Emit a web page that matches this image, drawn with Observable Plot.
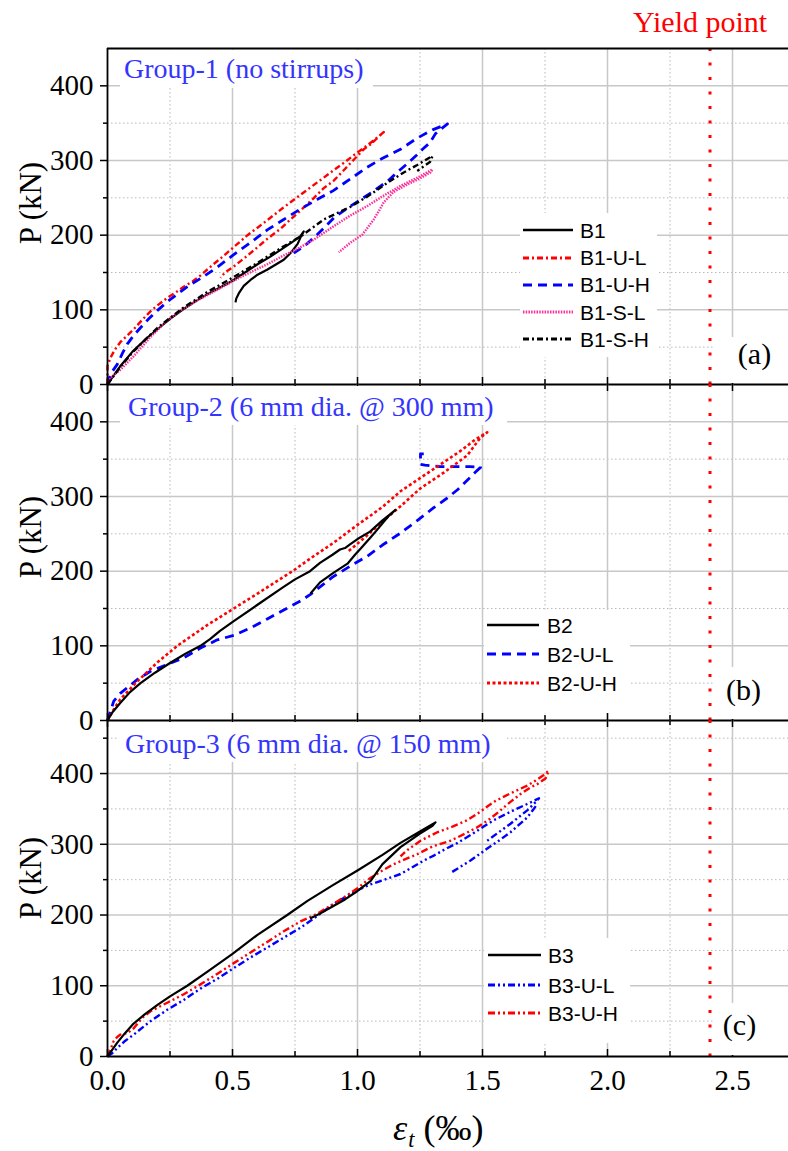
<!DOCTYPE html>
<html>
<head>
<meta charset="utf-8">
<script src="https://cdn.jsdelivr.net/npm/d3@7"></script>
<script src="https://cdn.jsdelivr.net/npm/@observablehq/plot@0.6"></script>
<style>
html,body{margin:0;padding:0;background:#fff;}
#chart{position:relative;width:788px;height:1151px;overflow:hidden;background:#fff;}
.box{position:absolute;background:#fff;}
</style>
</head>
<body>
<div id="chart"></div>
<script>
// ---------- data ----------
const strainTicks = [0, 0.5, 1, 1.5, 2, 2.5];
const strainTickLabels = ["0.0", "0.5", "1.0", "1.5", "2.0", "2.5"];
const strainMinor = [0.25, 0.75, 1.25, 1.75, 2.25];
const loadTicks = [0, 100, 200, 300, 400];
const loadMinorAB = [50, 150, 250, 350];
const loadMinorC = [50, 150, 250, 350, 450];
const yieldStrain = [2.41];
const groupTitles = ["Group-1 (no stirrups)", "Group-2 (6 mm dia. @ 300 mm)", "Group-3 (6 mm dia. @ 150 mm)"];
const panelTags = ["(a)", "(b)", "(c)"];
const names1 = ["B1", "B1-U-L", "B1-U-H", "B1-S-L", "B1-S-H"];
const names2 = ["B2", "B2-U-L", "B2-U-H"];
const names3 = ["B3", "B3-U-L", "B3-U-H"];

// [strain (‰), load (kN)] ; null = gap
const B1 = [[0,0],[0.02,10],[0.05,24],[0.1,44],[0.15,60],[0.2,74],[0.25,88],[0.3,100],[0.35,111],[0.4,121],[0.45,130],[0.5,139],[0.55,150],[0.6,161],[0.65,171],[0.7,182],[0.74,191],[0.77,198],[0.785,205],[0.775,199],[0.76,188],[0.732,176],[0.705,167],[0.67,160],[0.64,154],[0.6,147],[0.572,140],[0.545,132],[0.525,122],[0.515,115],[0.512,110]];
const B1UL = [[0,0],[0,25],[0.012,36],[0.03,47],[0.052,57],[0.08,66],[0.105,74],[0.14,87],[0.172,98],[0.2,106],[0.239,116],[0.28,125],[0.305,131],[0.34,138],[0.372,146],[0.42,160],[0.46,171],[0.505,184],[0.56,200],[0.6,210],[0.639,220],[0.7,236],[0.732,244],[0.772,254],[0.82,266],[0.865,277],[0.905,287],[0.95,298],[0.985,307],[1.03,318],[1.065,327],[1.105,338],[1.079,330],[1.05,321],[1.025,315],[0.985,301],[0.945,287],[0.905,273],[0.865,263],[0.82,248],[0.772,233],[0.732,221],[0.69,208],[0.639,195],[0.59,181],[0.55,170],[0.505,158],[0.47,150],[0.452,143]];
const B1UH = [[0,0],[0.012,14],[0.039,27],[0.06,42],[0.079,54],[0.105,66],[0.132,76],[0.165,88],[0.199,99],[0.24,111],[0.279,121],[0.32,131],[0.372,142],[0.439,157],[0.505,174],[0.572,190],[0.639,207],[0.7,220],[0.772,235],[0.84,248],[0.905,260],[0.97,275],[1.039,291],[1.1,303],[1.172,315],[1.239,330],[1.3,341],[1.36,349],[1.33,341],[1.312,336],[1.29,324],[1.26,315],[1.236,307],[1.2,296],[1.172,288],[1.119,272],[1.06,258],[1.0,245],[0.95,234],[0.905,223],[0.87,211],[0.839,201],[0.8,189],[0.772,182],[0.745,176]];
const B1SL = [[0,0],[0.012,9],[0.052,20],[0.105,38],[0.17,63],[0.239,86],[0.3,101],[0.372,115],[0.44,127],[0.505,139],[0.57,150],[0.639,161],[0.7,172],[0.772,184],[0.825,194],[0.905,212],[0.97,226],[1.039,239],[1.1,252],[1.172,266],[1.239,277],[1.3,288],[1.292,284],[1.25,276],[1.2,268],[1.145,258],[1.105,244],[1.09,235],[1.065,221],[1.02,201],[0.972,190],[0.925,177]];
const B1SH = [[0,0],[0.05,23],[0.1,43],[0.2,76],[0.3,102],[0.4,124],[0.5,143],[0.6,163],[0.7,184],[0.78,200],[0.865,221],[0.972,238],[1.05,254],[1.119,270],[1.185,284],[1.239,294],[1.279,302],[1.3,306],[1.29,298],[1.26,291],[1.239,286]];

const B2 = [[0,0],[0.02,11],[0.05,23],[0.09,38],[0.132,50],[0.19,64],[0.25,77],[0.31,89],[0.372,100],[0.41,109],[0.45,120],[0.505,133],[0.6,155],[0.7,178],[0.75,189],[0.81,200],[0.85,211],[0.9,222],[0.93,229],[0.95,231],[0.97,236],[1.0,243],[1.05,253],[1.1,268],[1.13,276],[1.152,282],[1.125,274],[1.1,264],[1.075,254],[1.052,245],[1.012,230],[0.99,222],[0.96,210],[0.905,198],[0.85,185],[0.812,170]];
const B2UL = [[0,0],[0.025,26],[0.05,36],[0.079,44],[0.12,55],[0.172,66],[0.239,75],[0.305,84],[0.372,97],[0.439,108],[0.505,114],[0.572,124],[0.639,136],[0.705,148],[0.772,160],[0.812,169],[0.9,192],[0.972,207],[1.039,220],[1.1,235],[1.172,251],[1.24,268],[1.305,285],[1.359,298],[1.4,309],[1.44,322],[1.47,332],[1.492,339],[1.45,340],[1.4,340],[1.33,340],[1.27,342],[1.252,343],[1.252,357],[1.265,357]];
const B2UH = [[0,0],[0.02,12],[0.05,28],[0.112,50],[0.2,78],[0.279,100],[0.4,128],[0.505,150],[0.6,170],[0.74,200],[0.82,219],[0.9,237],[1.0,262],[1.1,286],[1.172,307],[1.252,325],[1.332,343],[1.412,361],[1.47,376],[1.519,386],[1.492,379],[1.439,355],[1.345,332],[1.252,311],[1.172,287],[1.105,268],[1.039,248],[0.965,227]];

const B3 = [[0,0],[0.02,10],[0.04,20],[0.07,33],[0.1,45],[0.15,60],[0.2,73],[0.25,85],[0.319,100],[0.4,120],[0.5,145],[0.6,172],[0.719,200],[0.8,220],[0.9,242],[1.0,263],[1.1,285],[1.172,302],[1.25,318],[1.312,331],[1.3,326],[1.25,315],[1.172,296],[1.1,272],[1.052,248],[1.0,234],[0.95,222],[0.9,212],[0.85,202],[0.81,195]];
const B3UL = [[0,0],[0.02,5],[0.039,12],[0.07,22],[0.105,31],[0.172,50],[0.239,66],[0.305,80],[0.372,96],[0.44,110],[0.505,125],[0.572,140],[0.639,154],[0.705,168],[0.772,182],[0.84,199],[0.905,216],[0.97,229],[1.0,235],[1.05,243],[1.1,249],[1.172,258],[1.212,266],[1.26,276],[1.305,284],[1.345,292],[1.4,302],[1.452,313],[1.5,324],[1.545,334],[1.612,346],[1.679,357],[1.726,365],[1.719,362],[1.679,348],[1.612,329],[1.565,317],[1.519,305],null,[1.379,261],[1.415,269],[1.452,277],[1.519,294],[1.565,305],[1.612,317],[1.679,338],[1.705,350],[1.719,357]];
const B3UH = [[0,0],[0.012,10],[0.025,22],[0.04,28],[0.052,31],[0.08,33],[0.105,40],[0.14,55],[0.172,64],[0.239,76],[0.305,88],[0.372,102],[0.44,117],[0.505,132],[0.572,147],[0.639,162],[0.705,177],[0.772,191],[0.84,202],[0.905,216],[0.95,226],[1.0,238],[1.05,252],[1.1,263],[1.145,272],[1.239,286],[1.3,297],[1.372,305],[1.43,315],[1.479,324],[1.53,336],[1.572,348],[1.612,360],[1.652,371],[1.69,380],[1.719,385],[1.752,393],[1.765,404],[1.745,398],[1.712,390],[1.679,383],[1.612,372],[1.545,360],[1.479,343],[1.439,334],[1.38,325],[1.319,317],[1.252,305],[1.2,292],[1.172,283]];

// ---------- styles ----------
const RED = "#ff0000", BLUE = "#0000ff", PINK = "#ff2f9a", BLACK = "#000000";
const st = {
  solid:  {stroke: BLACK, width: 2.2, dash: null},
  redDD:  {stroke: RED,   width: 2.4, dash: "6,3,2,3"},
  blueDa: {stroke: BLUE,  width: 2.8, dash: "9,6"},
  pinkDo: {stroke: PINK,  width: 2.4, dash: "1.5,1.2"},
  blackDD:{stroke: BLACK, width: 2.4, dash: "6,3,2,3"},
  redDot: {stroke: RED,   width: 2.6, dash: "3,2.5"},
  blueDDD:{stroke: BLUE,  width: 2.4, dash: "7,3,2,3,2,3"},
  redDDD: {stroke: RED,   width: 2.4, dash: "7,3,2,3,2,3"}
};

const W = 788, H = 1151, ML = 107, XMAX = 2.724;
const panels = [
  {top: 48, bottom: 384, yMax: 450, minor: loadMinorAB, topLine: true, topTicks: false, xAxis: false,
   series: [[B1, st.solid], [B1UL, st.redDD], [B1UH, st.blueDa], [B1SL, st.pinkDo], [B1SH, st.blackDD]]},
  {top: 384, bottom: 720, yMax: 450, minor: loadMinorAB, topLine: false, topTicks: true, xAxis: false,
   series: [[B2UL, st.blueDa], [B2UH, st.redDot], [B2, st.solid]]},
  {top: 720, bottom: 1056, yMax: 475, minor: loadMinorC, topLine: false, topTicks: true, xAxis: true,
   series: [[B3UL, st.blueDDD], [B3UH, st.redDDD], [B3, st.solid]]}
];

const chart = document.getElementById("chart");
const GRID = "#c8c8c8", GRIDMINOR = "#b9b9b9";

panels.forEach(p => {
  const k = (p.bottom - p.top) / p.yMax;
  const marks = [
    Plot.ruleX(strainMinor, {stroke: GRIDMINOR, strokeWidth: 1, strokeDasharray: "1.5,2.5"}),
    Plot.ruleY(p.minor, {stroke: GRIDMINOR, strokeWidth: 1, strokeDasharray: "1.5,2.5"}),
    Plot.ruleX(strainTicks.filter(v => v > 0), {stroke: GRID, strokeWidth: 1.5}),
    Plot.ruleY(loadTicks.filter(v => v > 0), {stroke: GRID, strokeWidth: 1.5}),
    Plot.ruleX(yieldStrain, {stroke: RED, strokeWidth: 3, strokeDasharray: "3,11.5"})
  ];
  p.series.forEach(([data, s]) => {
    marks.push(Plot.line(data, {
      x: d => d ? d[0] : NaN, y: d => d ? d[1] : NaN,
      stroke: s.stroke, strokeWidth: s.width, strokeDasharray: s.dash,
      strokeLinejoin: "round", strokeLinecap: "butt"
    }));
  });
  // inward x ticks
  marks.push(Plot.ruleX(strainTicks, {y1: 0, y2: 7 / k, stroke: BLACK, strokeWidth: 1.5}));
  marks.push(Plot.ruleX(strainMinor, {y1: 0, y2: 5 / k, stroke: BLACK, strokeWidth: 1.5}));
  if (p.topTicks) {
    marks.push(Plot.ruleX(strainTicks, {y1: p.yMax, y2: p.yMax - 7 / k, stroke: BLACK, strokeWidth: 1.5}));
    marks.push(Plot.ruleX(strainMinor, {y1: p.yMax, y2: p.yMax - 5 / k, stroke: BLACK, strokeWidth: 1.5}));
  }
  // frame
  marks.push(Plot.ruleX([0], {stroke: BLACK, strokeWidth: 1.8}));
  marks.push(Plot.ruleY([0], {stroke: BLACK, strokeWidth: 1.8}));
  if (p.topLine) marks.push(Plot.ruleY([p.yMax], {stroke: BLACK, strokeWidth: 1.8}));
  // y axis
  marks.push(Plot.axisY(loadTicks, {tickSize: 7, tickPadding: 7, fontSize: 29, label: null, strokeWidth: 1.5}));
  marks.push(Plot.axisY(p.minor, {tickSize: 4, tickFormat: () => "", label: null, strokeWidth: 1.5}));
  if (p.xAxis) {
    marks.push(Plot.axisX(strainTicks, {tickSize: 0, tickPadding: 13, fontSize: 29, label: null,
      tickFormat: d => strainTickLabels[strainTicks.indexOf(d)]}));
  }
  const svg = Plot.plot({
    width: W, height: H,
    marginLeft: ML, marginRight: 0, marginTop: p.top, marginBottom: H - p.bottom,
    x: p.xAxis ? {domain: [0, XMAX]} : {domain: [0, XMAX], axis: null},
    y: {domain: [0, p.yMax]},
    style: {fontFamily: '"Liberation Serif","Times New Roman",serif', fontSize: "29px", background: "transparent", overflow: "visible", color: "#000"},
    marks
  });
  svg.style.position = "absolute";
  svg.style.left = "0px";
  svg.style.top = "0px";
  svg.style.background = "transparent";
  chart.appendChild(svg);
});

// ---------- annotations (HTML overlay) ----------
const SERIF = '"Liberation Serif","Times New Roman",serif';
const SANS = '"Liberation Sans",Arial,sans-serif';
function addBox(l, t, r, b) {
  const d = document.createElement("div");
  d.className = "box";
  Object.assign(d.style, {left: l + "px", top: t + "px", width: (r - l) + "px", height: (b - t) + "px"});
  chart.appendChild(d);
}
function addText(html, x, baseline, fs, opts = {}) {
  const d = document.createElement("div");
  d.innerHTML = html;
  const asc = opts.sans ? 0.8465 : 0.8375;
  d.style.cssText = `position:absolute;white-space:nowrap;line-height:${fs}px;font-size:${fs}px;` +
    `font-family:${opts.sans ? SANS : SERIF};color:${opts.color || "#000"};top:${baseline - asc * fs}px;left:${x}px;`;
  if (opts.anchor === "middle") d.style.transform = "translateX(-50%)";
  chart.appendChild(d);
  return d;
}
function legendLine(x0, x1, y, s) {
  const ns = "http://www.w3.org/2000/svg";
  const svg = document.createElementNS(ns, "svg");
  svg.setAttribute("width", x1 - x0); svg.setAttribute("height", 8);
  svg.style.cssText = `position:absolute;left:${x0}px;top:${y - 4}px;overflow:visible;`;
  const ln = document.createElementNS(ns, "line");
  ln.setAttribute("x1", 0); ln.setAttribute("x2", x1 - x0); ln.setAttribute("y1", 4); ln.setAttribute("y2", 4);
  ln.setAttribute("stroke", s.stroke); ln.setAttribute("stroke-width", s.width + 0.4);
  if (s.dash) ln.setAttribute("stroke-dasharray", s.dash);
  svg.appendChild(ln);
  chart.appendChild(svg);
}

// group titles
const TBLUE = "#3434ff";
addBox(120, 49.5, 373, 88);
addText(groupTitles[0], 124, 78, 28, {color: TBLUE});
addBox(120, 385.5, 507, 425);
addText(groupTitles[1], 128, 416, 28, {color: TBLUE});
addBox(118, 721.5, 505, 762);
addText(groupTitles[2], 125, 753, 28, {color: TBLUE});

// legends
const leg = [
  {box: [520, 213, 657, 357], x0: 523, x1: 573, lx: 580, rows: [230, 257.5, 284.5, 311.8, 339.2], names: names1,
   styles: [st.solid, st.redDD, st.blueDa, st.pinkDo, st.blackDD]},
  {box: [484, 610, 630, 713], x0: 487, x1: 539, lx: 547, rows: [625, 654, 683.3], names: names2,
   styles: [st.solid, st.blueDa, st.redDot]},
  {box: [484, 938, 630, 1043], x0: 488, x1: 541, lx: 548, rows: [955, 985, 1013.3], names: names3,
   styles: [st.solid, st.blueDDD, st.redDDD]}
];
leg.forEach(L => {
  addBox(...L.box);
  L.names.forEach((n, i) => {
    legendLine(L.x0, L.x1, L.rows[i], L.styles[i]);
    addText(n, L.lx, L.rows[i] + 7.5, 21, {sans: true});
  });
});

// panel tags
addBox(713, 337, 788, 383);
addText(panelTags[0], 754.5, 364.5, 30, {anchor: "middle"});
addBox(713, 667, 788, 719);
addText(panelTags[1], 743.5, 700, 30, {anchor: "middle"});
addBox(713, 1003, 788, 1055);
addText(panelTags[2], 739.5, 1035, 30, {anchor: "middle"});

// yield label
addText("Yield point", 633, 32, 30, {color: RED});

// axis titles
[216 - 13, 552 - 15, 888 - 10].forEach(cy => {
  const d = document.createElement("div");
  d.textContent = "P (kN)";
  d.style.cssText = `position:absolute;left:30px;top:${cy}px;white-space:nowrap;font-family:${SERIF};font-size:31px;line-height:31px;transform:translate(-50%,-50%) rotate(-90deg);`;
  chart.appendChild(d);
});
addText('<i>ε</i><span style="font-size:0.62em;font-style:italic;position:relative;top:0.32em;margin-left:1px">t</span> (‰)', 393, 1140, 36);
</script>
</body>
</html>
